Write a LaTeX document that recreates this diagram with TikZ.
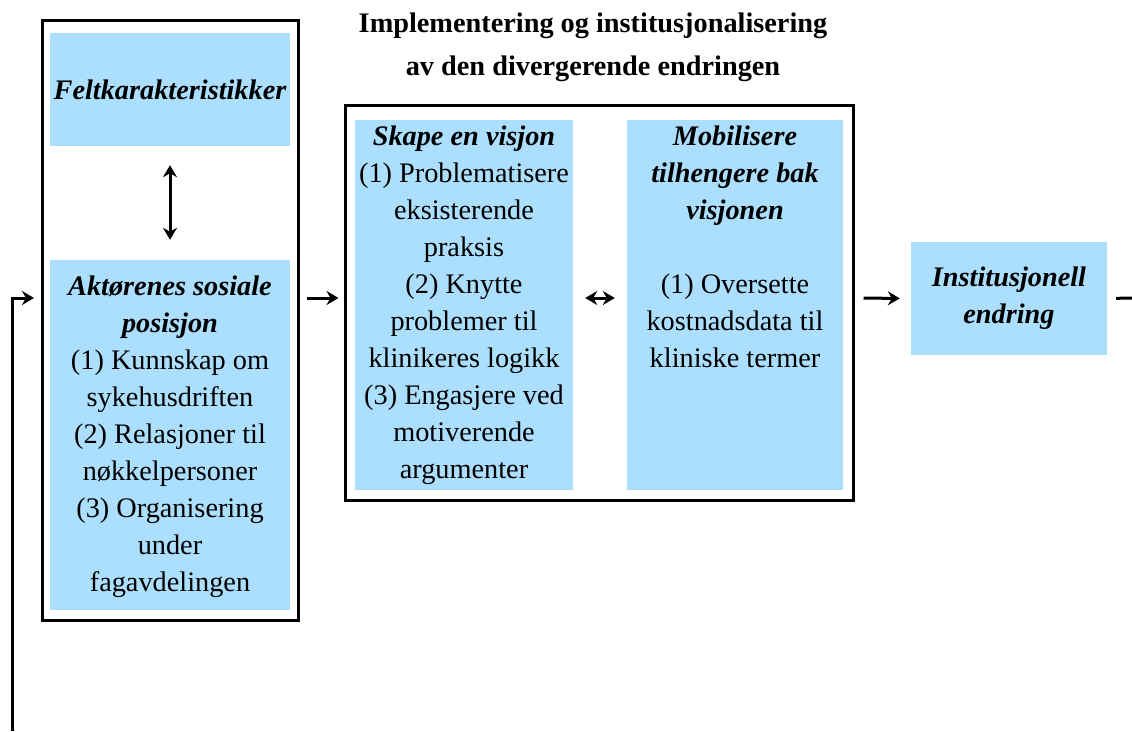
\documentclass[tikz,border=0pt]{standalone}
\usepackage{fontspec}
\setmainfont{Liberation Serif}
\usetikzlibrary{arrows.meta}
\definecolor{boxblue}{RGB}{172,222,254}
\tikzset{
  fillbox/.style={draw=none, fill=boxblue, inner sep=0pt},
  framebox/.style={draw=black, line width=3pt, inner sep=0pt},
  txt/.style={align=center, inner sep=0pt, font=\fontsize{28.3}{37}\selectfont},
  tip/.tip={Stealth[length=12pt,width=14pt,inset=4pt]},
  conn/.style={line width=3pt, -tip},
  dconn/.style={line width=3pt, tip-tip},
  bi/.style={font=\fontsize{28.3}{37}\selectfont\bfseries\itshape}
}
\begin{document}
\begin{tikzpicture}[x=1pt,y=-1pt]
\useasboundingbox (0,0) rectangle (1132,731);
% title
\node[txt, anchor=north, font=\fontsize{28.3}{43}\selectfont\bfseries] (title) at (593,13)
  {Implementering og institusjonalisering\\av den divergerende endringen};
% left group
\node[framebox, minimum width=256pt, minimum height=600pt] (left) at (170,320) {};
\node[fillbox, minimum width=240pt, minimum height=113pt, bi] (felt) at (170,89.5) {Feltkarakteristikker};
\node[fillbox, minimum width=240pt, minimum height=350pt] (aktor) at (170,435) {};
\node[txt, anchor=north] (aktortxt) at (170,275.5)
  {\textbf{\textit{Aktørenes sosiale}}\\\textbf{\textit{posisjon}}\\(1) Kunnskap om\\sykehusdriften\\(2) Relasjoner til\\nøkkelpersoner\\(3) Organisering\\under\\fagavdelingen};
% middle group
\node[framebox, minimum width=508pt, minimum height=395pt] (mid) at (599,302.5) {};
\node[fillbox, minimum width=218pt, minimum height=370pt] (skape) at (464,305) {};
\node[txt, anchor=north] (skapetxt) at (464,126)
  {\textbf{\textit{Skape en visjon}}\\(1) Problematisere\\eksisterende\\praksis\\(2) Knytte\\problemer til\\klinikeres logikk\\(3) Engasjere ved\\motiverende\\argumenter};
\node[fillbox, minimum width=216pt, minimum height=370pt] (mobil) at (735,305) {};
\node[txt, anchor=north] (mobiltxt) at (735,126)
  {\textbf{\textit{Mobilisere}}\\\textbf{\textit{tilhengere bak}}\\\textbf{\textit{visjonen}}\\[37pt](1) Oversette\\kostnadsdata til\\kliniske termer};
% right
\node[fillbox, minimum width=196pt, minimum height=113pt, txt, bi] (inst) at (1009,298.5) {Institusjonell\\endring};
% connectors
\draw[dconn, shorten <=19pt, shorten >=20pt] (felt.south) -- (aktor.north);
\draw[conn, shorten <=7pt, shorten >=5pt] (left.east |- 0,298) -- (mid.west |- 0,298);
\draw[dconn, shorten <=12pt, shorten >=12pt] (skape.east |- 0,298) -- (mobil.west |- 0,298);
\draw[conn, shorten <=9pt, shorten >=11pt] (mid.east |- 0,298) -- (inst.west);
\coordinate (rightend) at (1132,298);
\draw[line width=3pt, shorten <=9pt] (inst.east) -- (rightend);
\coordinate (fbstart) at (12,731);
\coordinate (fbend) at (34,298);
\draw[conn] (fbstart) |- (fbend);
\end{tikzpicture}
\end{document}
